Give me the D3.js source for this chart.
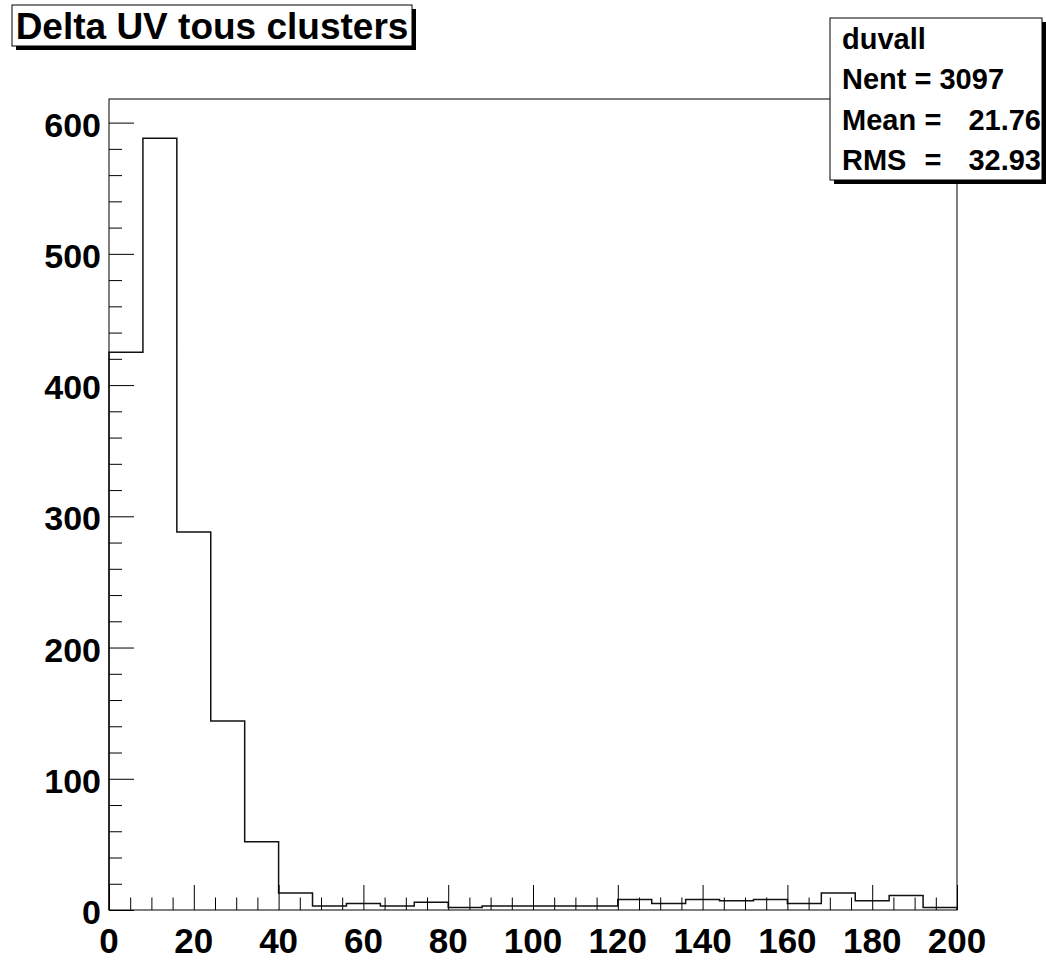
<!DOCTYPE html>
<html><head><meta charset="utf-8">
<script src="https://cdn.jsdelivr.net/npm/d3@7"></script>
<style>
body{margin:0;background:#fff;overflow:hidden}
svg{display:block}
text{font-family:"Liberation Sans",Arial,Helvetica,sans-serif;font-weight:bold;fill:#000}
</style>
</head><body>
<svg id="c" width="1046" height="961"></svg>
<script>
// ---- data ----
const binLow = [0,8,16,24,32,40,48,56,64,72,80,88,96,104,112,120,128,136,144,152,160,168,176,184,192];
const binCounts = [425,588,288,144,52,13,3,5,3,6,2,3,3,3,3,8,5,8,7,8,5,13,7,11,2];
const binWidth = 8;
const xTickValues = [0,20,40,60,80,100,120,140,160,180,200];
const yTickValues = [0,100,200,300,400,500,600];
const titleText = "Delta UV tous clusters";
const statName = "duvall";
const statNent = "Nent = 3097";
const statLabels = ["Mean","RMS"];
const statValues = ["21.76","32.93"];
const xDomain = [0,200];
const yMax = 618;

// ---- layout ----
const svg = d3.select("#c");
const L = 109, R = 957, T = 99, B = 910;
const x = d3.scaleLinear().domain(xDomain).range([L,R]);
const y = d3.scaleLinear().domain([0,yMax]).range([B,T]);

// frame
svg.append("rect").attr("x",L).attr("y",T).attr("width",R-L).attr("height",B-T)
  .attr("fill","none").attr("stroke","#000").attr("stroke-width",1);

// histogram step path
const pts = [[x(binLow[0]), y(0)]];
binLow.forEach((lo,i)=>{
  pts.push([x(lo), y(binCounts[i])]);
  pts.push([x(lo+binWidth), y(binCounts[i])]);
});
pts.push([x(binLow[binLow.length-1]+binWidth), y(0)]);
svg.append("path").attr("d", d3.line()(pts))
  .attr("fill","none").attr("stroke","#111").attr("stroke-width",1.5);

// x axis ticks
const xMinor = d3.range(0,201,5).filter(v=>v%20!==0);
const xAxisMajor = d3.axisBottom(x).tickValues(xTickValues).tickSize(-25).tickFormat("");
const xAxisMinor = d3.axisBottom(x).tickValues(xMinor).tickSize(-12.5).tickFormat("");
[xAxisMajor,xAxisMinor].forEach(ax=>{
  const g = svg.append("g").attr("transform",`translate(0,${B})`).call(ax);
  g.select(".domain").remove();
  g.selectAll("line").attr("stroke","#000").attr("stroke-width",1);
});
svg.append("g").selectAll("text").data(xTickValues).join("text")
  .attr("x",d=>x(d)).attr("y",953).attr("text-anchor","middle")
  .attr("font-size",35).text(d=>d);

// y axis ticks
const yMinor = d3.range(0,yMax,20).filter(v=>v%100!==0);
const yAxisMajor = d3.axisLeft(y).tickValues(yTickValues).tickSize(-25).tickFormat("");
const yAxisMinor = d3.axisLeft(y).tickValues(yMinor).tickSize(-13).tickFormat("");
[yAxisMajor,yAxisMinor].forEach(ax=>{
  const g = svg.append("g").attr("transform",`translate(${L},0)`).call(ax);
  g.select(".domain").remove();
  g.selectAll("line").attr("stroke","#000").attr("stroke-width",1);
});
svg.append("g").selectAll("text").data(yTickValues).join("text")
  .attr("x",101).attr("y",d=>y(d)+14).attr("text-anchor","end")
  .attr("font-size",34).text(d=>d);

// title box
const tb = {x:12,y:5,w:400,h:41,s:4};
svg.append("rect").attr("x",tb.x+tb.s).attr("y",tb.y+tb.s).attr("width",tb.w).attr("height",tb.h).attr("fill","#000");
svg.append("rect").attr("x",tb.x).attr("y",tb.y).attr("width",tb.w).attr("height",tb.h)
  .attr("fill","#fff").attr("stroke","#000").attr("stroke-width",1);
svg.append("text").attr("x",tb.x+tb.w/2).attr("y",39).attr("text-anchor","middle")
  .attr("font-size",37).text(titleText);

// stats box
const sb = {x:830,y:18,w:212,h:162,s:4};
svg.append("rect").attr("x",sb.x+sb.s).attr("y",sb.y+sb.s).attr("width",sb.w).attr("height",sb.h).attr("fill","#000");
svg.append("rect").attr("x",sb.x).attr("y",sb.y).attr("width",sb.w).attr("height",sb.h)
  .attr("fill","#fff").attr("stroke","#000").attr("stroke-width",1);
const lh = sb.h/4;
svg.append("text").attr("x",842).attr("y",sb.y+lh*1-10).attr("font-size",29).text(statName);
svg.append("text").attr("x",842).attr("y",sb.y+lh*2-10).attr("font-size",29).text(statNent);
statLabels.forEach((lab,i)=>{
  const yy = sb.y+lh*(i+3)-10;
  svg.append("text").attr("x",842).attr("y",yy).attr("font-size",29).text(lab);
  svg.append("text").attr("x",933).attr("y",yy).attr("text-anchor","middle").attr("font-size",29).text("=");
  svg.append("text").attr("x",1041).attr("y",yy).attr("text-anchor","end").attr("font-size",29).text(statValues[i]);
});
</script>
</body></html>
